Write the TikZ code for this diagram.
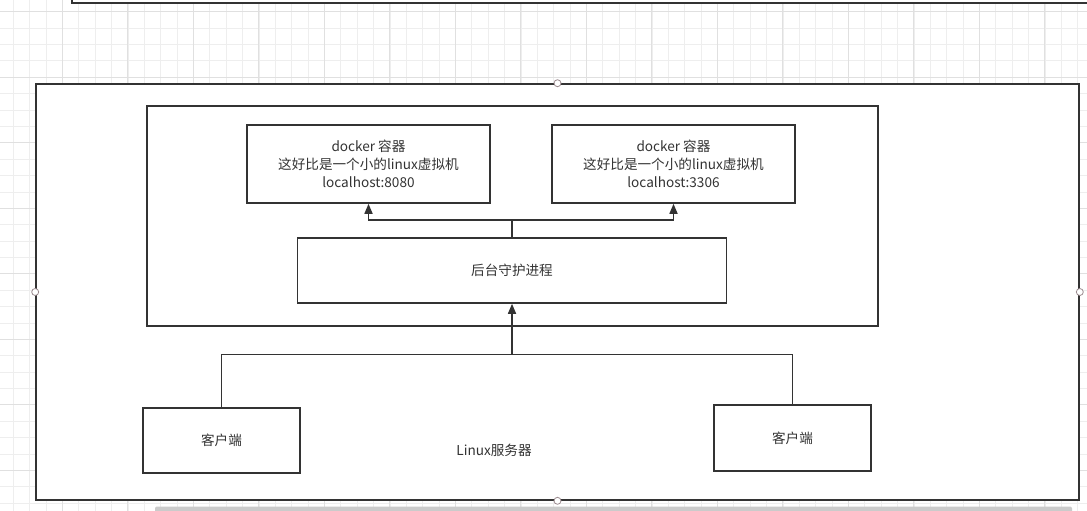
\documentclass[tikz,border=0pt]{standalone}
\usepackage{fontspec}
\setmainfont{Noto Sans CJK SC}
\usetikzlibrary{arrows.meta}
\definecolor{ink}{HTML}{333333}
\definecolor{gridminor}{HTML}{EEEEEE}
\definecolor{gridmajor}{HTML}{E0E0E0}
\definecolor{handle}{HTML}{9A8A8E}
\definecolor{scroll}{HTML}{CBCBCB}
\tikzset{
  box/.style={draw=ink, line width=1.6pt, fill=white, align=center, text=ink,
    font=\fontsize{13.6}{18}\selectfont, inner sep=0pt},
  link/.style={draw=ink, line width=1.6pt},
  arr/.style={link, -{Triangle[width=8pt,length=10pt]}},
  hdl/.style={draw=handle, fill=white, line width=0.8pt, circle, minimum size=7pt, inner sep=0pt},
  lbl/.style={text=ink, font=\fontsize{13.6}{18}\selectfont, inner sep=0pt}
}
\begin{document}
\begin{tikzpicture}[x=1pt,y=-1pt]
\useasboundingbox (0,0) rectangle (1087,511);
\fill[white] (0,0) rectangle (1087,511);
% grid
\foreach \i in {0,...,67} {
  \pgfmathsetmacro{\xx}{-3.2+16.375*\i}
  \draw[gridminor, line width=0.6pt] (\xx,0) -- (\xx,511);
}
\foreach \i in {0,...,31} {
  \pgfmathsetmacro{\yy}{-4.7+16.375*\i}
  \draw[gridminor, line width=0.6pt] (0,\yy) -- (1087,\yy);
}
\foreach \i in {0,...,16} {
  \pgfmathsetmacro{\xx}{62.3+65.5*\i-65.5}
  \draw[gridmajor, line width=0.8pt] (\xx,0) -- (\xx,511);
}
\foreach \i in {0,...,8} {
  \pgfmathsetmacro{\yy}{11.7+65.5*\i}
  \draw[gridmajor, line width=0.8pt] (0,\yy) -- (1087,\yy);
}
% partial box at top
\filldraw[fill=white, draw=ink, line width=1.6pt] (72,-5) -- (72,3) -- (1095,3) -- (1095,-5);
% outer and inner containers
\node[box, minimum width=1043pt, minimum height=416pt] (outer) at (557.5,292) {};
\node[box, minimum width=731pt, minimum height=220pt] (inner) at (512.5,216) {};
% boxes
\node[box, minimum width=243pt, minimum height=78pt] (docker1) at (368.5,164)
  {docker 容器\\这好比是一个小的linux虚拟机\\localhost:8080};
\node[box, minimum width=243pt, minimum height=78pt] (docker2) at (673.5,164)
  {docker 容器\\这好比是一个小的linux虚拟机\\localhost:3306};
\node[box, minimum width=429pt, minimum height=65pt] (daemon) at (512,270.5) {后台守护进程};
\node[box, minimum width=157pt, minimum height=65pt] (client1) at (221.5,440.5) {客户端};
\node[box, minimum width=157pt, minimum height=66pt] (client2) at (792.5,438) {客户端};
\node[lbl] (server) at (494,450) {Linux服务器};
% connectors
\coordinate (jt) at (512,220);
\coordinate (jb) at (512,354.5);
\draw[link] (daemon.north) -- (jt);
\draw[arr] (jt) -| (docker1.south);
\draw[arr] (jt) -| (docker2.south);
\draw[link] (client1.north) |- (jb);
\draw[link] (client2.north) |- (jb);
\draw[arr] (jb) -- (daemon.south);
% selection handles
\node[hdl] (h1) at (outer.north) {};
\node[hdl] (h2) at (outer.south) {};
\node[hdl] (h3) at (outer.west) {};
\node[hdl] (h4) at (outer.east) {};
% scrollbar
\fill[scroll, rounded corners=2pt] (155,506.5) rectangle (1072,514);
\end{tikzpicture}
\end{document}
